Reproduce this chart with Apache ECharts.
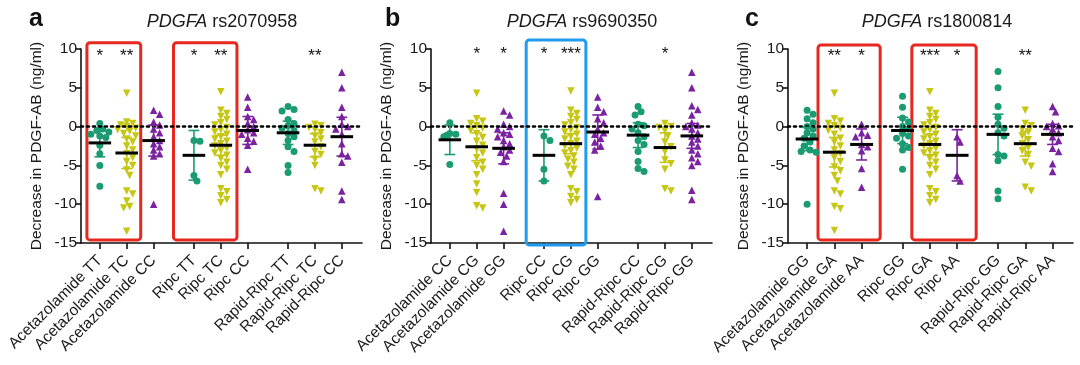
<!DOCTYPE html>
<html><head><meta charset="utf-8">
<script src="https://cdn.jsdelivr.net/npm/echarts@6/dist/echarts.min.js"></script>
<style>html,body{margin:0;padding:0;background:#fff}#main{width:1080px;height:365px}</style>
</head><body><div id="main"></div>
<script>
// ---------- DATA ----------
const positions = [0, 1, 2, 3.5, 4.5, 5.5, 7, 8, 9];
const yTicks = [10, 5, 0, -5, -10, -15];

const catsA = ['Acetazolamide TT','Acetazolamide TC','Acetazolamide CC','Ripc TT','Ripc TC','Ripc CC','Rapid-Ripc TT','Rapid-Ripc TC','Rapid-Ripc CC'];
const catsB = ['Acetazolamide CC','Acetazolamide CG','Acetazolamide GG','Ripc CC','Ripc CG','Ripc GG','Rapid-Ripc CC','Rapid-Ripc CG','Rapid-Ripc GG'];
const catsC = ['Acetazolamide GG','Acetazolamide GA','Acetazolamide AA','Ripc GG','Ripc GA','Ripc AA','Rapid-Ripc GG','Rapid-Ripc GA','Rapid-Ripc AA'];

const snpA = 'rs2070958', snpB = 'rs9690350', snpC = 'rs1800814';
const gene = 'PDGFA';

const valsA = [
  [0.4,-0.3,-0.5,-0.7,-1.0,-1.2,-1.4,-2.4,-3.5,-5.0,-7.7],
  [4.3,0.6,0.4,0.2,0.0,-0.2,-0.4,-0.6,-0.9,-1.2,-1.6,-2.0,-2.5,-3.0,-3.5,-4.0,-4.5,-5.0,-5.6,-6.3,-8.3,-8.7,-9.6,-10.3,-10.5,-13.5],
  [2.1,1.6,0.6,0.2,-0.3,-0.8,-1.3,-1.8,-2.2,-2.6,-3.0,-3.5,-3.8,-10.0],
  [-1.8,-1.9,-6.3,-7.0],
  [4.5,2.1,1.7,1.3,0.9,0.5,0.2,-0.1,-0.4,-0.7,-1.0,-1.3,-1.6,-1.9,-2.2,-2.5,-2.8,-3.1,-3.4,-3.7,-4.1,-4.6,-5.0,-5.5,-6.2,-8.0,-8.4,-8.9,-9.4,-9.8],
  [3.8,2.5,1.3,0.9,0.4,0.0,-0.4,-0.8,-1.0,-1.5,-1.9,-2.4,-5.5],
  [2.6,2.2,2.0,0.9,0.4,0.1,-0.2,-0.5,-0.9,-1.3,-1.8,-2.6,-3.2,-5.0,-5.9],
  [0.3,0.1,-0.1,-0.4,-0.8,-1.2,-1.6,-2.0,-2.6,-3.2,-3.6,-4.2,-5.0,-8.0,-8.3],
  [7.0,5.0,2.5,1.3,0.3,0.0,-0.3,-1.0,-2.2,-3.5,-3.8,-4.6,-8.3,-9.4]
];
const meanA = [-2.1,-3.4,-1.8,-3.7,-2.4,-0.5,-0.8,-2.4,-1.3];
const sdA   = [1.8,2.0,2.0,3.2,1.3,1.8,1.5,1.5,2.5];
const starsA = ['*','**','','*','**','','','**',''];

const valsB = [
  [0.5,-0.9,-1.0,-1.3,-1.1,-4.9],
  [4.3,1.0,0.7,0.4,0.1,-0.2,-0.5,-0.9,-1.4,-1.9,-2.4,-2.9,-3.4,-4.0,-4.6,-5.0,-5.5,-6.2,-7.4,-8.5,-10.2,-10.5],
  [2.0,1.5,0.3,0.0,-0.3,-0.8,-1.0,-1.3,-1.8,-2.2,-2.6,-3.0,-3.3,-3.8,-4.5,-8.6,-10.0,-13.5],
  [-1.2,-1.8,-5.5,-7.0],
  [4.6,2.1,1.7,1.3,0.9,0.5,0.2,-0.1,-0.4,-0.7,-1.0,-1.3,-1.6,-1.9,-2.2,-2.5,-2.8,-3.1,-3.4,-3.8,-4.2,-4.6,-5.1,-5.5,-6.2,-8.0,-8.4,-9.0,-9.4,-9.8],
  [3.8,2.5,1.9,1.0,0.5,-0.3,-0.8,-1.0,-1.5,-2.0,-2.5,-3.0,-9.0],
  [2.6,1.9,1.5,0.3,0.1,-0.3,-0.8,-1.3,-1.8,-2.3,-3.2,-4.5,-5.4,-5.8],
  [0.4,0.0,-0.1,-0.5,-1.2,-2.0,-2.6,-3.2,-4.3,-4.8,-5.5,-8.0,-8.3],
  [7.0,5.0,2.7,2.2,1.5,0.5,0.2,0.0,-0.3,-0.8,-1.2,-1.6,-2.0,-2.5,-3.0,-3.5,-4.0,-4.5,-5.0,-8.2,-9.4]
];
const meanB = [-1.7,-2.6,-2.8,-3.7,-2.2,-0.7,-1.1,-2.7,-1.2];
const sdB   = [1.9,1.8,2.0,3.3,1.3,2.2,1.6,1.9,1.6];
const starsB = ['','*','*','*','***','','','*',''];

const valsC = [
  [2.1,1.6,1.0,0.5,0.0,-0.3,-0.8,-1.2,-1.5,-2.0,-2.5,-3.0,-3.2,-3.3,-10.0],
  [4.3,1.0,0.7,0.4,0.1,-0.2,-0.5,-1.0,-1.5,-2.0,-2.5,-3.0,-3.5,-4.0,-4.5,-5.2,-5.7,-6.3,-7.0,-8.3,-8.7,-10.3,-10.6,-13.4],
  [0.3,-0.8,-1.1,-1.3,-2.3,-2.6,-3.1,-5.4,-7.8],
  [3.9,2.5,1.1,0.6,0.0,-0.3,-0.9,-1.2,-1.5,-2.2,-2.7,-3.0,-5.5],
  [4.5,2.1,1.7,1.3,0.9,0.5,0.2,-0.1,-0.4,-0.7,-1.0,-1.3,-1.6,-1.9,-2.2,-2.5,-2.8,-3.1,-3.4,-3.7,-4.1,-4.6,-5.0,-5.5,-6.2,-8.0,-8.4,-8.9,-9.4,-9.8],
  [-1.3,-2.0,-6.3,-7.0],
  [7.1,5.0,2.6,1.2,0.3,-0.2,-0.8,-1.2,-3.6,-3.8,-4.4,-8.3,-9.3],
  [2.1,0.4,0.1,-0.3,-0.7,-1.2,-1.7,-2.2,-2.7,-3.1,-3.6,-4.6,-5.1,-7.8,-8.3],
  [2.6,1.9,0.4,0.1,0.0,-0.3,-0.8,-1.3,-1.8,-2.8,-3.2,-4.8,-5.8]
];
const meanC = [-1.6,-3.3,-2.3,-0.5,-2.3,-3.7,-1.0,-2.2,-1.0];
const sdC   = [1.5,1.9,2.0,1.7,1.3,3.3,2.6,1.6,1.3];
const starsC = ['','**','*','','***','*','','**',''];

// highlight boxes: [xFrom, xTo, yBottom, yTop] in axis units
const boxesA = [[-0.48,1.52,-14.6,10.8],[2.74,5.1,-14.6,10.8]];
const boxesB = [[2.84,5.06,-15.25,11.15]];
const boxesC = [[0.4,2.68,-14.6,10.5],[3.84,6.2,-14.6,10.5]];

// ---------- STYLE / LAYOUT ----------
const FONT = '"Liberation Sans", Arial, Helvetica, sans-serif';
const COLORS = ['#1b9b72', '#c6c614', '#7a229f'];
const BOX_COLORS = {A:'#e8281f', B:'#1f9cf0', C:'#e8281f'};
const GRID_TOP = 49, GRID_H = 194;
const XMIN = -0.7, XMAX = 9.75;
const panels = [
  {key:'A', left:81, width:281, cats:catsA, vals:valsA, mean:meanA, sd:sdA, stars:starsA, boxes:boxesA, snp:snpA, letter:'a', letterX:24, titleX:217, starY:9.1},
  {key:'B', left:431, width:281, cats:catsB, vals:valsB, mean:meanB, sd:sdB, stars:starsB, boxes:boxesB, snp:snpB, letter:'b', letterX:380, titleX:577, starY:9.3},
  {key:'C', left:788, width:285, cats:catsC, vals:valsC, mean:meanC, sd:sdC, stars:starsC, boxes:boxesC, snp:snpC, letter:'c', letterX:740, titleX:932, starY:9.0}
];

// beeswarm offsets (deterministic, in x-axis units)
function swarm(vals, pxPerX, pxPerY) {
  const d = 6.0, step = d * 0.5, maxOff = 10;
  const placed = [];
  return vals.map(v => {
    const y = v * pxPerY;
    let chosen = null, bestScore = -1, bestOff = 0;
    for (let k = 0; k < 40; k++) {
      const off = (k === 0 ? 0 : (k % 2 ? 1 : -1) * Math.ceil(k / 2)) * step;
      if (Math.abs(off) > maxOff) break;
      let minD = Infinity;
      for (const p of placed) {
        const dd = Math.hypot(off - p.x, y - p.y);
        if (dd < minD) minD = dd;
      }
      if (minD >= d) { chosen = off; break; }
      if (minD > bestScore) { bestScore = minD; bestOff = off; }
    }
    if (chosen === null) chosen = bestOff;
    placed.push({x: chosen, y});
    return chosen / pxPerX;
  });
}

const chart = echarts.init(document.getElementById('main'), null, {renderer: 'canvas'});
const grids = [], xAxes = [], yAxes = [], series = [], titles = [];

panels.forEach((P, pi) => {
  grids.push({left: P.left, width: P.width, top: GRID_TOP, height: GRID_H, containLabel: false});
  const pxX = P.width / (XMAX - XMIN), pxY = GRID_H / 25;
  xAxes.push({
    type: 'value', gridIndex: pi, min: XMIN, max: XMAX,
    splitLine: {show: false},
    axisLine: {show: true, onZero: false, lineStyle: {color: '#111', width: 1.6}},
    axisTick: {show: true, customValues: positions, length: 6, lineStyle: {color: '#111', width: 1.6}},
    axisLabel: {
      show: true, customValues: positions, rotate: 45, margin: 15,
      fontFamily: FONT, fontSize: 15.5, color: '#1a1a1a',
      formatter: v => { const i = positions.findIndex(p => Math.abs(p - v) < 1e-6); return i >= 0 ? P.cats[i] : ''; }
    }
  });
  yAxes.push({
    type: 'value', gridIndex: pi, min: -15, max: 10, interval: 5,
    splitLine: {show: false},
    axisLine: {show: true, onZero: false, lineStyle: {color: '#111', width: 1.6}},
    axisTick: {show: true, length: 6, lineStyle: {color: '#111', width: 1.6}},
    axisLabel: {fontFamily: FONT, fontSize: 15.5, color: '#1a1a1a', margin: 4},
    name: 'Decrease in PDGF-AB (ng/ml)', nameLocation: 'middle', nameGap: 36,
    nameTextStyle: {fontFamily: FONT, fontSize: 15.5, color: '#1a1a1a'}
  });

  // highlight boxes
  series.push({
    type: 'custom', xAxisIndex: pi, yAxisIndex: pi, z: 1, clip: false, silent: true,
    data: P.boxes,
    renderItem: (params, api) => {
      const a = api.coord([api.value(0), api.value(3)]);
      const b = api.coord([api.value(1), api.value(2)]);
      return {type: 'rect', shape: {x: a[0], y: a[1], width: b[0] - a[0], height: b[1] - a[1], r: 3},
        style: {fill: 'none', stroke: BOX_COLORS[P.key], lineWidth: 3}};
    }
  });

  // points
  P.vals.forEach((vals, gi) => {
    const offs = swarm(vals, pxX, pxY);
    const ci = gi % 3;
    series.push({
      type: 'scatter', xAxisIndex: pi, yAxisIndex: pi, z: 3, silent: true,
      symbol: ci === 0 ? 'circle' : 'triangle',
      symbolRotate: ci === 1 ? 180 : 0,
      symbolSize: ci === 0 ? 7 : 7.5,
      itemStyle: {color: COLORS[ci], opacity: 1},
      data: vals.map((v, k) => [positions[gi] + offs[k], v])
    });
  });

  // zero dotted line
  series.push({
    type: 'scatter', xAxisIndex: pi, yAxisIndex: pi, data: [], z: 4, silent: true,
    markLine: {silent: true, symbol: 'none', label: {show: false},
      lineStyle: {type: [2, 4], width: 2.6, color: '#000', cap: 'round'},
      data: [{yAxis: 0}]}
  });

  // mean + SD
  series.push({
    type: 'custom', xAxisIndex: pi, yAxisIndex: pi, z: 5, silent: true,
    data: positions.map((p, gi) => [p, P.mean[gi], P.sd[gi], gi % 3]),
    renderItem: (params, api) => {
      const x = api.value(0), m = api.value(1), s = api.value(2), col = COLORS[api.value(3)];
      const c = api.coord([x, m]);
      const t = api.coord([x, m + s]), b = api.coord([x, m - s]);
      const capW = api.size([0.2, 0])[0];
      const meanW = api.size([0.42, 0])[0];
      return {type: 'group', children: [
        {type: 'line', shape: {x1: c[0], y1: t[1], x2: c[0], y2: b[1]}, style: {stroke: col, lineWidth: 1.6}},
        {type: 'line', shape: {x1: c[0] - capW, y1: t[1], x2: c[0] + capW, y2: t[1]}, style: {stroke: col, lineWidth: 1.6}},
        {type: 'line', shape: {x1: c[0] - capW, y1: b[1], x2: c[0] + capW, y2: b[1]}, style: {stroke: col, lineWidth: 1.6}},
        {type: 'line', shape: {x1: c[0] - meanW, y1: c[1], x2: c[0] + meanW, y2: c[1]}, style: {stroke: '#000', lineWidth: 3}}
      ]};
    }
  });

  // significance stars
  series.push({
    type: 'custom', xAxisIndex: pi, yAxisIndex: pi, z: 6, silent: true, clip: false,
    data: positions.map(p => [p, P.starY]),
    renderItem: (params, api) => {
      const c = api.coord([api.value(0), api.value(1)]);
      return {type: 'text', x: c[0], y: c[1],
        style: {text: P.stars[params.dataIndex], fill: '#111', font: '17px ' + FONT, align: 'center', verticalAlign: 'middle'}};
    }
  });

  titles.push({
    text: '{i|' + gene + '} ' + P.snp, left: P.titleX, top: 8, textAlign: 'center',
    textStyle: {fontFamily: FONT, fontSize: 18, fontWeight: 'normal', color: '#1a1a1a',
      rich: {i: {fontFamily: FONT, fontSize: 18, fontStyle: 'italic', color: '#1a1a1a'}}}
  });
  titles.push({
    text: P.letter, left: P.letterX, top: 2,
    textStyle: {fontFamily: FONT, fontSize: 25, fontWeight: 'bold', color: '#111'}
  });
});

chart.setOption({
  animation: false,
  backgroundColor: '#fff',
  title: titles,
  grid: grids,
  xAxis: xAxes,
  yAxis: yAxes,
  series: series
});
</script>
</body></html>
